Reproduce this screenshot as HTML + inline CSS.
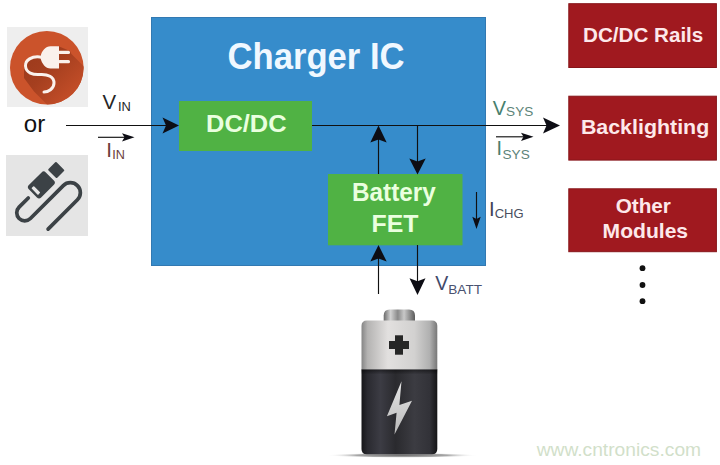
<!DOCTYPE html>
<html><head><meta charset="utf-8">
<style>
html,body{margin:0;padding:0;background:#fff;width:720px;height:465px;overflow:hidden}
svg{display:block}
text{font-family:"Liberation Sans",sans-serif}
</style></head>
<body>
<svg width="720" height="465" viewBox="0 0 720 465">
<defs>
  <linearGradient id="silver" x1="0" y1="0" x2="1" y2="0">
    <stop offset="0" stop-color="#858585"/>
    <stop offset="0.08" stop-color="#b4b3b2"/>
    <stop offset="0.35" stop-color="#e2e0df"/>
    <stop offset="0.7" stop-color="#d2d1d0"/>
    <stop offset="0.9" stop-color="#b0b0b0"/>
    <stop offset="1" stop-color="#777777"/>
  </linearGradient>
  <linearGradient id="cap" x1="0" y1="0" x2="1" y2="0">
    <stop offset="0" stop-color="#6a6a6a"/>
    <stop offset="0.22" stop-color="#d2d2d2"/>
    <stop offset="0.45" stop-color="#8a8a8a"/>
    <stop offset="0.65" stop-color="#c8c8c8"/>
    <stop offset="1" stop-color="#5a5a5a"/>
  </linearGradient>
  <linearGradient id="dark" x1="0" y1="0" x2="1" y2="0">
    <stop offset="0" stop-color="#161619"/>
    <stop offset="0.08" stop-color="#2a2a30"/>
    <stop offset="0.25" stop-color="#3c3c44"/>
    <stop offset="0.45" stop-color="#2a2a2e"/>
    <stop offset="0.7" stop-color="#3c3c42"/>
    <stop offset="0.9" stop-color="#323238"/>
    <stop offset="1" stop-color="#141416"/>
  </linearGradient>
  <linearGradient id="bolt" x1="0" y1="0" x2="0" y2="1">
    <stop offset="0" stop-color="#e6e6e6"/>
    <stop offset="1" stop-color="#b8b8b8"/>
  </linearGradient>
  <linearGradient id="shadowline" x1="0" y1="0" x2="1" y2="0">
    <stop offset="0" stop-color="#fff"/>
    <stop offset="0.3" stop-color="#bbb"/>
    <stop offset="0.7" stop-color="#bbb"/>
    <stop offset="1" stop-color="#fff"/>
  </linearGradient>
  <radialGradient id="shad" cx="0.5" cy="0.5" r="0.5"><stop offset="0" stop-color="#707070"/><stop offset="0.6" stop-color="#a8a8a8"/><stop offset="1" stop-color="#ffffff" stop-opacity="0"/></radialGradient>
  <linearGradient id="topdark" x1="0" y1="0" x2="0" y2="1"><stop offset="0" stop-color="#000" stop-opacity="0.45"/><stop offset="1" stop-color="#000" stop-opacity="0"/></linearGradient>
  <linearGradient id="lsh" gradientUnits="userSpaceOnUse" x1="30" y1="50" x2="85" y2="105"><stop offset="0" stop-color="#9c3a1c"/><stop offset="0.35" stop-color="#a53f1f"/><stop offset="0.75" stop-color="#c04c27"/><stop offset="1" stop-color="#cb532b"/></linearGradient>
  <clipPath id="cc"><circle cx="46.8" cy="67.8" r="36.8"/></clipPath>
</defs>

<!-- Icon 1: plug -->
<rect x="7" y="27" width="81" height="80" fill="#eeeeee"/>
<circle cx="46.8" cy="67.8" r="36.8" fill="#cb532b"/>
<path clip-path="url(#cc)" d="M24,62 L39,55.5 L58,46 L70,51 L71.5,54 L121.5,104 L84,141.5 L34,91.5 L24,78 Z" fill="url(#lsh)"/>
<g fill="#faf1ec">
<path d="M59,46.2 V68.5 H50.5 C45.5,68.5 41.8,63.5 40.6,58.5 L38.5,57.2 L40.6,55.9 C41.8,51 45.5,46.2 50.5,46.2 Z"/>
<rect x="58" y="50.7" width="12" height="3.2" rx="1.5"/>
<rect x="58" y="60" width="12" height="3.2" rx="1.5"/>
</g>
<path d="M40,57 C32,56 25,60 25.5,66 C26,73 33,75 40,74.5 C48,74 54,77 54,83 C54,89 48,92 44,92" fill="none" stroke="#faf1ec" stroke-width="3" stroke-linecap="round"/>

<!-- Icon 2: usb -->
<rect x="6" y="155" width="82" height="81" fill="#e5e5e5"/>
<g transform="matrix(0.7071,-0.7071,0.7071,0.7071,0,0)">
<rect x="-113.5" y="151.3" width="24" height="17.4" rx="3" fill="#3c4246"/>
<rect x="-111" y="155.3" width="3.4" height="9.4" rx="0.8" fill="#e6e6e6"/>
<rect x="-86.2" y="153.8" width="11.5" height="12.4" rx="1" fill="#3c4246"/>
<path d="M-120,160 L-133,160 A8,8 0 0 0 -133,176 L-86.5,176 A10,10 0 0 1 -86.5,196 L-128,196" fill="none" stroke="#3c4246" stroke-width="3.7" stroke-linecap="round"/>
</g>

<!-- Blue Charger IC -->
<rect x="151" y="17" width="335" height="249" fill="#368ccb"/>
<rect x="151.5" y="17.5" width="334" height="248" fill="none" stroke="#3279b2" stroke-width="1"/>
<!-- DC/DC -->
<rect x="179" y="101" width="133" height="50" fill="#50b244"/>
<!-- Battery FET -->
<rect x="328" y="174" width="134.5" height="71.3" fill="#50b244"/>

<!-- Red boxes -->
<rect x="568.8" y="3.7" width="147.6" height="63.8" fill="#a0191f" stroke="#861419" stroke-width="1"/>
<rect x="568.8" y="96.2" width="147.6" height="63.9" fill="#a0191f" stroke="#861419" stroke-width="1"/>
<rect x="568.8" y="188.8" width="147.6" height="62.9" fill="#a0191f" stroke="#861419" stroke-width="1"/>

<!-- dots -->
<circle cx="642.5" cy="268.2" r="2.9" fill="#111"/>
<circle cx="642.5" cy="285" r="2.9" fill="#111"/>
<circle cx="642.5" cy="301.2" r="2.9" fill="#111"/>

<!-- lines -->
<g stroke="#111" stroke-width="1.15" fill="none">
  <line x1="66" y1="125.5" x2="170" y2="125.5"/>
  <line x1="98" y1="137.3" x2="126" y2="137.3"/>
  <line x1="312" y1="125.5" x2="550" y2="125.5"/>
  <line x1="496" y1="136.8" x2="525" y2="136.8"/>
  <line x1="378.5" y1="135" x2="378.5" y2="174"/>
  <line x1="417.5" y1="125.5" x2="417.5" y2="165"/>
  <line x1="378.5" y1="255" x2="378.5" y2="294"/>
  <line x1="417.5" y1="245" x2="417.5" y2="285"/>
  <line x1="476.5" y1="192" x2="476.5" y2="222"/>
</g>
<g fill="#0d0d14">
  <path d="M179,125.5 L162.5,117.5 L166,125.5 L162.5,133.5 Z"/>
  <path d="M134.5,137.3 L122,133.2 L124.5,137.3 L122,141.4 Z"/>
  <path d="M560,125.5 L543,117.5 L546.5,125.5 L543,133.5 Z"/>
  <path d="M533.5,136.8 L521,132.7 L523.5,136.8 L521,140.9 Z"/>
  <path d="M378.5,125.5 L370.3,142.5 L378.5,139.5 L386.7,142.5 Z"/>
  <path d="M417.5,174.5 L409.3,158.5 L417.5,161.5 L425.7,158.5 Z"/>
  <path d="M378.5,245 L370.3,261.5 L378.5,258.5 L386.7,261.5 Z"/>
  <path d="M417.5,295 L409.5,278.3 L417.5,281.3 L425.5,278.3 Z"/>
  <path d="M476.5,229 L472.3,216.8 L476.5,219 L480.7,216.8 Z"/>
</g>

<!-- battery -->
<ellipse cx="402" cy="455.3" rx="76" ry="2.6" fill="url(#shad)"/>
<path d="M383.7,322 V315.5 Q383.7,309.4 389.7,309.4 H409 Q415,309.4 415,315.5 V322 Z" fill="url(#cap)"/>
<path d="M367,320.6 H431.8 Q437.3,320.6 437.3,326.1 V370 H361.5 V326.1 Q361.5,320.6 367,320.6 Z" fill="url(#silver)"/>
<path d="M361.5,369.6 H437.3 V449 Q437.3,454.3 432,454.3 H366.8 Q361.5,454.3 361.5,449 Z" fill="url(#dark)"/>
<rect x="361.5" y="369.6" width="75.8" height="5" fill="url(#topdark)"/>
<rect x="395" y="335.3" width="8" height="19.4" fill="#262626"/>
<rect x="389" y="341" width="20" height="8" fill="#262626"/>
<path d="M401.5,381.3 L386.9,416.2 L396.6,412.7 L394.5,434.4 L412,400.8 L399.4,405 Z" fill="url(#bolt)"/>

<!-- texts -->
<text x="227.5" y="69.2" font-size="36.0" font-weight="bold" fill="#f0f8ff" textLength="177.11" lengthAdjust="spacingAndGlyphs">Charger IC</text>
<text x="206.02" y="131.90" font-size="24.8" font-weight="bold" fill="#eaffdf" textLength="80.56" lengthAdjust="spacingAndGlyphs">DC/DC</text>
<text x="352.00" y="201.20" font-size="24.9" font-weight="bold" fill="#eaffdf" textLength="83.75" lengthAdjust="spacingAndGlyphs">Battery</text>
<text x="371.46" y="231.80" font-size="24.6" font-weight="bold" fill="#eaffdf" textLength="46.96" lengthAdjust="spacingAndGlyphs">FET</text>
<text x="583.06" y="41.70" font-size="20.7" font-weight="bold" fill="#fde8ea" textLength="120.26" lengthAdjust="spacingAndGlyphs">DC/DC Rails</text>
<text x="580.90" y="134.10" font-size="20.4" font-weight="bold" fill="#fde8ea" textLength="128.31" lengthAdjust="spacingAndGlyphs">Backlighting</text>
<text x="615.67" y="213.20" font-size="20.0" font-weight="bold" fill="#fde8ea" textLength="55.28" lengthAdjust="spacingAndGlyphs">Other</text>
<text x="602.63" y="237.50" font-size="19.9" font-weight="bold" fill="#fde8ea" textLength="85.44" lengthAdjust="spacingAndGlyphs">Modules</text>
<text x="102.40" y="109.00" font-size="20.6" font-weight="normal" fill="#262626" textLength="13.65" lengthAdjust="spacingAndGlyphs">V</text>
<text x="117.94" y="111.00" font-size="12.9" font-weight="normal" fill="#262626" textLength="12.89" lengthAdjust="spacingAndGlyphs">IN</text>
<text x="106.35" y="156.80" font-size="20.6" font-weight="normal" fill="#6b3c3c">I</text>
<text x="112.16" y="158.70" font-size="12.6" font-weight="normal" fill="#6b3c3c" textLength="12.65" lengthAdjust="spacingAndGlyphs">IN</text>
<text x="492.70" y="114.70" font-size="20.4" font-weight="normal" fill="#477f6e" textLength="13.24" lengthAdjust="spacingAndGlyphs">V</text>
<text x="506.12" y="116.40" font-size="13.6" font-weight="normal" fill="#5d8479" textLength="27.14" lengthAdjust="spacingAndGlyphs">SYS</text>
<text x="496.43" y="154.60" font-size="19.7" font-weight="normal" fill="#477f6e">I</text>
<text x="502.52" y="159.10" font-size="13.0" font-weight="normal" fill="#5d8479" textLength="27.24" lengthAdjust="spacingAndGlyphs">SYS</text>
<text x="488.89" y="216.20" font-size="20.1" font-weight="normal" fill="#3d4456">I</text>
<text x="494.65" y="217.80" font-size="12.4" font-weight="normal" fill="#4a4f60" textLength="28.99" lengthAdjust="spacingAndGlyphs">CHG</text>
<text x="435.20" y="289.60" font-size="20.8" font-weight="normal" fill="#3f4a6a" textLength="13.03" lengthAdjust="spacingAndGlyphs">V</text>
<text x="448.31" y="293.80" font-size="13.4" font-weight="normal" fill="#4a5270" textLength="33.68" lengthAdjust="spacingAndGlyphs">BATT</text>
<text x="23.74" y="131.80" font-size="23.5" font-weight="normal" fill="#111111" textLength="21.43" lengthAdjust="spacingAndGlyphs">or</text>
<text x="536.65" y="455.60" font-size="18.8" font-weight="normal" fill="#d2dfca" textLength="164.45" lengthAdjust="spacingAndGlyphs">www.cntronics.com</text>

</svg>
</body></html>
